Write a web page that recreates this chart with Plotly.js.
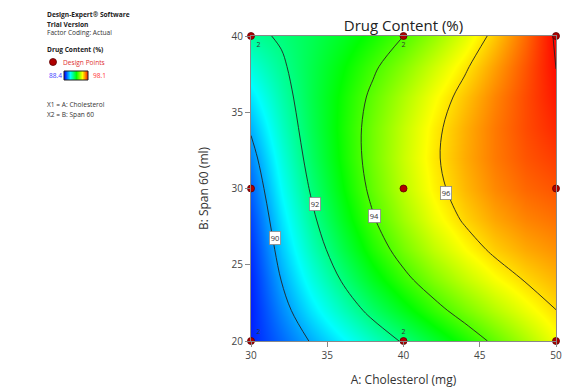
<!DOCTYPE html>
<html>
<head>
<meta charset="utf-8">
<script src="https://cdn.plot.ly/plotly-3.0.1.min.js"></script>
<style>html,body{margin:0;padding:0;background:#fff;}#chart{width:568px;height:392px;}</style>
</head>
<body>
<div id="chart"></div>
<script>
// A: Cholesterol (mg) grid, B: Span 60 (ml) grid
const cholesterol = [30, 32, 34, 36, 38, 40, 42, 44, 46, 48, 50];
const span60 = [20, 22, 24, 26, 28, 30, 32, 34, 36, 38, 40];
// Drug Content (%) surface, one row per Span 60 value
const drugContent = [
  [88.73, 89.40, 90.07, 90.74, 91.42, 92.10, 92.79, 93.48, 94.17, 94.87, 95.57],
  [88.71, 89.71, 90.61, 91.46, 92.26, 93.01, 93.71, 94.36, 94.95, 95.50, 95.99],
  [88.76, 90.02, 91.09, 92.07, 92.97, 93.77, 94.47, 95.09, 95.61, 96.04, 96.37],
  [88.88, 90.32, 91.50, 92.57, 93.53, 94.36, 95.07, 95.66, 96.14, 96.49, 96.72],
  [89.08, 90.60, 91.84, 92.96, 93.94, 94.79, 95.51, 96.09, 96.53, 96.85, 97.03],
  [89.35, 90.88, 92.12, 93.23, 94.21, 95.06, 95.77, 96.35, 96.80, 97.12, 97.30],
  [89.69, 91.14, 92.34, 93.40, 94.34, 95.17, 95.88, 96.47, 96.94, 97.30, 97.53],
  [90.11, 91.40, 92.48, 93.45, 94.33, 95.12, 95.82, 96.43, 96.95, 97.39, 97.73],
  [90.60, 91.64, 92.56, 93.39, 94.17, 94.91, 95.60, 96.24, 96.84, 97.39, 97.89],
  [91.16, 91.88, 92.55, 93.21, 93.87, 94.53, 95.21, 95.89, 96.59, 97.30, 98.01],
  [91.79, 92.10, 92.47, 92.92, 93.42, 94.00, 94.66, 95.39, 96.21, 97.11, 98.10]
];
const zMin = 88.4, zMax = 98.1;
// Design points
const pointA = [30, 30, 30, 40, 40, 40, 50, 50, 50];
const pointB = [20, 30, 40, 20, 30, 40, 20, 30, 40];
const pointRep = ["2", "", "2", "2", "", "2", "", "", ""];
// Contour labels
const labelValues = ["90", "92", "94", "96"];
const labelA = [31.57, 34.2, 38.13, 42.77];
const labelB = [26.73, 28.98, 28.2, 29.69];

const cscale = [[0, '#0000ff'], [0.25, '#00ffff'], [0.5, '#00ff00'], [0.75, '#ffff00'], [1, '#ff0000']];
const W = 556, PT = 36, PB = 341, PH = PB - PT;
const px = v => v / W;
const py = v => (PB - v) / PH;

const traces = [
  {type: 'heatmap', x: cholesterol, y: span60, z: drugContent, zmin: zMin, zmax: zMax,
   zsmooth: 'best', colorscale: cscale, showscale: false, hoverinfo: 'skip'},
  {type: 'contour', x: cholesterol, y: span60, z: drugContent, showscale: false,
   contours: {coloring: 'none', start: 90, end: 98, size: 2, showlabels: false},
   line: {color: '#222222', width: 0.9, smoothing: 1.0}, hoverinfo: 'skip'},
  {type: 'scatter', mode: 'markers+text', x: pointA, y: pointB, text: pointRep,
   textposition: ['top right', 'middle right', 'bottom right', 'top center', 'middle right', 'bottom center', 'top right', 'middle right', 'bottom right'],
   textfont: {size: 7, color: '#333333'}, cliponaxis: false,
   marker: {color: '#b00000', size: 7, line: {color: '#5a0000', width: 0.8}}, hoverinfo: 'skip'},
  {type: 'heatmap', x: [0, 1], y: [0], z: [[zMin, zMax]], zmin: zMin, zmax: zMax, zsmooth: 'best',
   colorscale: cscale, showscale: false, xaxis: 'x2', yaxis: 'y2', hoverinfo: 'skip'}
];

const annots = [];
labelValues.forEach((t, i) => annots.push({x: labelA[i], y: labelB[i], xref: 'x', yref: 'y', text: t, showarrow: false,
  font: {size: 7.5, color: '#333'}, bgcolor: '#ffffff', bordercolor: '#888', borderwidth: 0.8, borderpad: 1}));
const side = [
  {t: '<b>Design-Expert® Software</b>', x: 45, y: 15, c: '#222'},
  {t: '<b>Trial Version</b>', x: 45, y: 24, c: '#222'},
  {t: 'Factor Coding: Actual', x: 45, y: 33, c: '#333'},
  {t: '<b>Drug Content (%)</b>', x: 45, y: 50, c: '#222'},
  {t: 'Design Points', x: 61, y: 62, c: '#e03030'},
  {t: '88.4', x: 47, y: 75.5, c: '#4040ff'},
  {t: '98.1', x: 91, y: 75.5, c: '#ff3030'},
  {t: 'X1 = A: Cholesterol', x: 45, y: 105, c: '#333'},
  {t: 'X2 = B: Span 60', x: 45, y: 114, c: '#333'}
];
side.forEach(s => annots.push({x: px(s.x), y: py(s.y), xref: 'paper', yref: 'paper', xanchor: 'left', yanchor: 'middle',
  text: s.t, showarrow: false, font: {size: 6.6, color: s.c}}));

const layout = {
  width: 568, height: 392,
  margin: {l: 0, r: 12, t: 36, b: 51},
  paper_bgcolor: '#ffffff', plot_bgcolor: '#ffffff',
  font: {family: 'Open Sans, sans-serif', color: '#333'},
  showlegend: false,
  title: {text: 'Drug Content (%)', font: {size: 15, color: '#222'}, x: (251 + 556) / 2 / 568, xanchor: 'center',
          xref: 'container', y: 1 - 26 / 392, yref: 'container', yanchor: 'middle'},
  xaxis: {domain: [251 / W, 1], range: [30, 50], tickvals: [30, 35, 40, 45, 50], ticks: 'outside', ticklen: 5,
          tickcolor: '#888', showline: true, linecolor: '#888', linewidth: 1, mirror: true, showgrid: false, zeroline: false,
          tickfont: {size: 10, color: '#444'},
          title: {text: 'A: Cholesterol (mg)', font: {size: 12, color: '#333'}, standoff: 14}},
  yaxis: {domain: [0, 1], range: [20, 40], tickvals: [20, 25, 30, 35, 40], ticks: 'outside', ticklen: 5,
          tickcolor: '#888', showline: true, linecolor: '#888', linewidth: 1, mirror: true, showgrid: false, zeroline: false,
          tickfont: {size: 10, color: '#444'},
          title: {text: 'B: Span 60 (ml)', font: {size: 12, color: '#333'}, standoff: 20}},
  xaxis2: {domain: [px(64), px(88)], range: [0, 1], visible: false, anchor: 'y2', fixedrange: true},
  yaxis2: {domain: [py(80), py(71)], range: [-0.5, 0.5], visible: false, anchor: 'x2', fixedrange: true},
  shapes: [
    {type: 'rect', xref: 'paper', yref: 'paper', x0: px(64), x1: px(88), y0: py(80), y1: py(71), line: {color: '#222', width: 1}},
    {type: 'circle', xref: 'paper', yref: 'paper', x0: px(49.5), x1: px(56.5), y0: py(65.5), y1: py(58.5),
     fillcolor: '#b00000', line: {color: '#5a0000', width: 0.8}}
  ],
  annotations: annots
};
Plotly.newPlot('chart', traces, layout, {displayModeBar: false, staticPlot: true});
</script>
</body>
</html>
